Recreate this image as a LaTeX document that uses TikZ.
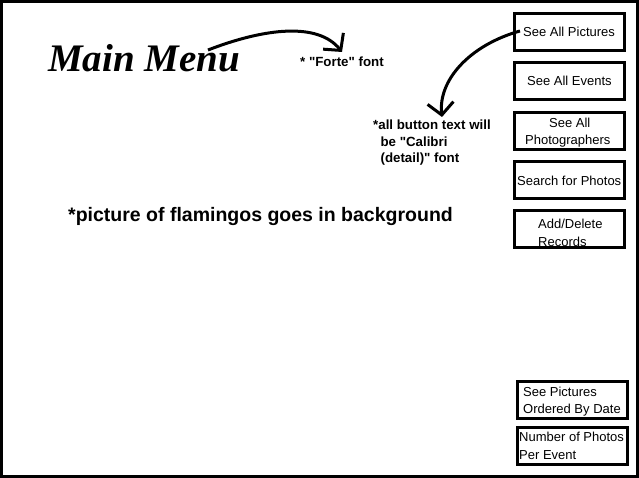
\documentclass[tikz,border=0pt]{standalone}
\usepackage{fontspec}
\setmainfont{Liberation Sans}[Ligatures=TeXOff]
\newfontfamily\titlefont{Liberation Serif}
\usetikzlibrary{arrows.meta}
\begin{document}
\begin{tikzpicture}[x=1pt,y=-1pt,
  btn/.style={draw,line width=3pt,minimum width=110pt,minimum height=37pt,inner sep=0pt},
  btntext/.style={font=\fontsize{13}{15}\selectfont,anchor=west,inner sep=0pt},
  note/.style={font=\bfseries\fontsize{13.3}{16.5}\selectfont,inner sep=0pt},
  conn/.style={line width=3pt,-{Straight Barb[length=12pt,width=26pt]}}]
\useasboundingbox (0,0) rectangle (639,478);
\draw[line width=3pt] (1.5,1.5) rectangle (637.5,476.5);
% buttons
\node[btn] (b1) at (569.5,32.5) {};
\node[btn] (b2) at (569.5,81.5) {};
\node[btn] (b3) at (569.5,131) {};
\node[btn] (b4) at (569.5,180) {};
\node[btn] (b5) at (569.5,229) {};
\node[btn] (b6) at (572,400) {};
\node[btn] (b7) at (572,445.5) {};
\node[btntext] (t1) at (523,32) {See All Pictures};
\node[btntext] (t2) at (527,81) {See All Events};
\node[btntext] (t3a) at (549,123) {See All};
\node[btntext] (t3b) at (525,141) {Photographers};
\node[btntext] (t4) at (517,181) {Search for Photos};
\node[btntext] (t5a) at (538,224) {Add/Delete};
\node[btntext] (t5b) at (538,242) {Records};
\node[btntext] (t6a) at (523,392) {See Pictures};
\node[btntext] (t6b) at (523,410) {Ordered By Date};
\node[btntext] (t7a) at (519,437) {Number of Photos};
\node[btntext] (t7b) at (519,455) {Per Event};
% title
\node[anchor=west,inner sep=0pt,font=\titlefont\bfseries\itshape\fontsize{39}{42}\selectfont] (title) at (48,58) {Main Menu};
% notes
\node[note,anchor=west] (forte) at (300,62) {* "Forte" font};
\node[note,anchor=north west,align=left] (calibri) at (373,120) {*all button text will\\\ \ be "Calibri\\\ \ (detail)" font};
\node[anchor=west,inner sep=0pt,font=\bfseries\fontsize{19.5}{22}\selectfont] (bg) at (68,217) {*picture of flamingos goes in background};
% arrows
\coordinate (a1s) at (208,50);
\coordinate (a1e) at (342,52);
\coordinate (a2s) at (520,31);
\coordinate (a2e) at (442,117);
\draw[conn] (a1s) .. controls (265,28) and (318,22) .. (a1e);
\draw[conn] (a2s) .. controls (470,45) and (438,80) .. (a2e);
\end{tikzpicture}
\end{document}
